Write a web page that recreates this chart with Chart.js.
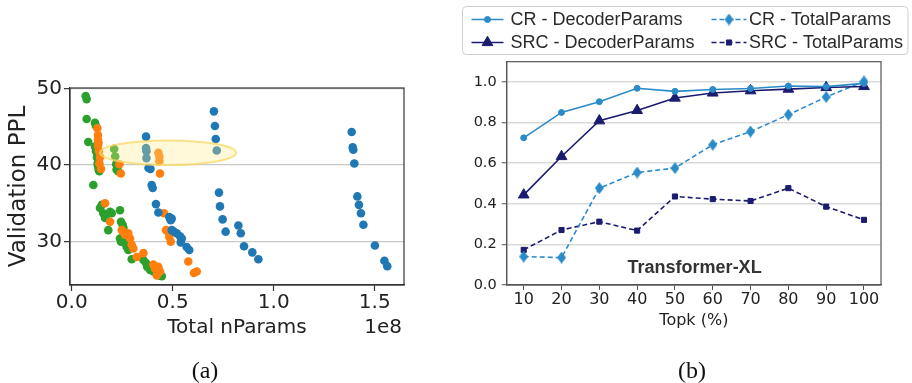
<!DOCTYPE html>
<html><head><meta charset="utf-8">
<script src="https://cdn.jsdelivr.net/npm/chart.js@4.4.1/dist/chart.umd.min.js"></script>
<style>
html,body{margin:0;padding:0;background:#fff;}
#wrap{position:relative;width:912px;height:383px;overflow:hidden;background:#fff;}
canvas{position:absolute;left:0;top:0;}
.cap{position:absolute;font-family:"Liberation Serif",serif;font-size:24px;color:#111;transform:translate(-50%,-50%);white-space:nowrap;}
</style></head><body>
<div id="wrap">
<canvas id="ca" width="912" height="383" style="width:912px;height:383px"></canvas>
<canvas id="cb" width="912" height="383" style="width:912px;height:383px"></canvas>
<div class="cap" style="left:205px;top:370px">(a)</div>
<div class="cap" style="left:692px;top:370px">(b)</div>
</div>
<script>
// ---------- Panel (a) data: [Total nParams (1e8), Validation PPL] ----------
const seriesBlue = [
 [0.368,43.7],[0.368,42.2],[0.370,41.8],[0.370,40.9],[0.380,39.6],[0.390,39.5],[0.396,37.4],[0.401,37.0],
 [0.417,34.9],[0.429,33.8],[0.483,33.2],[0.495,33.0],[0.490,32.8],[0.495,31.5],[0.507,31.3],[0.520,31.1],
 [0.536,30.7],[0.545,30.4],[0.540,29.9],[0.569,29.3],[0.582,28.9],
 [0.704,47.0],[0.709,45.1],[0.713,43.4],[0.718,41.9],[0.729,36.4],[0.734,34.6],[0.747,32.9],[0.762,31.3],
 [0.825,32.1],[0.837,31.1],[0.853,29.4],[0.894,28.6],[0.924,27.7],
 [1.386,44.3],[1.391,42.3],[1.394,42.0],[1.399,40.2],[1.414,35.9],[1.422,34.8],[1.432,33.7],[1.444,32.2],
 [1.501,29.5],[1.548,27.5],[1.562,26.8]
];
const seriesOrange = [
 [0.127,44.8],[0.130,43.9],[0.130,43.3],[0.133,42.9],[0.130,42.5],[0.135,41.8],[0.140,41.0],[0.137,40.2],[0.145,39.5],
 [0.236,40.1],[0.243,38.9],
 [0.429,41.6],[0.434,41.1],[0.434,40.5],[0.437,38.9],
 [0.165,35.0],[0.190,32.6],[0.248,31.5],[0.264,30.9],[0.280,31.1],[0.289,30.4],[0.297,29.6],[0.305,29.1],
 [0.322,28.0],[0.355,28.5],[0.404,27.0],[0.412,26.5],[0.429,26.7],[0.437,26.1],[0.421,25.6],
 [0.457,33.7],[0.467,31.5],[0.478,31.3],[0.483,30.6],[0.490,30.0],
 [0.577,27.4],[0.605,25.9],[0.619,26.1]
];
const seriesGreen = [
 [0.069,49.0],[0.074,48.6],[0.074,46.0],[0.082,43.0],[0.115,45.5],[0.120,45.1],
 [0.115,42.4],[0.120,41.8],[0.125,41.0],[0.128,40.2],[0.130,39.9],[0.133,39.4],[0.137,39.2],[0.107,37.4],
 [0.210,42.1],[0.215,41.1],[0.220,40.1],[0.222,39.4],[0.230,39.2],
 [0.149,34.8],[0.140,34.4],[0.156,33.7],[0.165,33.1],[0.173,33.5],[0.190,33.9],[0.198,33.7],[0.181,31.5],
 [0.239,34.1],[0.244,32.6],[0.252,32.2],[0.256,31.8],[0.239,30.4],[0.244,30.0],[0.264,29.8],[0.272,29.3],
 [0.280,28.9],[0.297,27.7],[0.355,27.6],[0.368,27.2],[0.374,26.7],[0.388,26.3],[0.404,26.1],[0.421,25.9],
 [0.434,25.6],[0.446,25.5]
];
const xTicksA = [0.0, 0.5, 1.0, 1.5];
const yTicksA = [30, 40, 50];
const highlight = {x: 0.477, y: 41.6, rx: 0.337, ry: 1.6};

// ---------- Panel (b) data ----------
const topk = [10,20,30,40,50,60,70,80,90,100];
const crDecoder  = [0.725,0.850,0.903,0.969,0.954,0.963,0.968,0.980,0.977,0.993];
const srcDecoder = [0.444,0.633,0.809,0.860,0.921,0.946,0.957,0.965,0.973,0.978];
const crTotal    = [0.140,0.135,0.477,0.554,0.576,0.691,0.756,0.839,0.926,1.003];
const srcTotal   = [0.173,0.271,0.312,0.268,0.436,0.423,0.414,0.477,0.386,0.321];
const xTicksB = [10,20,30,40,50,60,70,80,90,100];
const yTicksB = [0.0,0.2,0.4,0.6,0.8,1.0];
const labelsB = ['CR - DecoderParams','SRC - DecoderParams','CR - TotalParams','SRC - TotalParams'];

// ---------- helpers ----------
const pts = arr => arr.map(([x,y]) => ({x, y}));
const zip = (xs, ys) => xs.map((x,i) => ({x, y: ys[i]}));
const setTicks = list => s => { s.ticks = list.map(v => ({value: v})); };

const framePlugin = color => ({
  id: 'frame',
  afterDraw(chart) {
    const {ctx, chartArea: a} = chart;
    ctx.save(); ctx.strokeStyle = color; ctx.lineWidth = 1.2;
    ctx.strokeRect(a.left, a.top, a.right - a.left, a.bottom - a.top);
    ctx.restore();
  }
});

const ellipsePlugin = {
  id: 'ellipse',
  afterDatasetsDraw(chart) {
    const {ctx, scales: {x, y}} = chart;
    const cx = x.getPixelForValue(highlight.x), cy = y.getPixelForValue(highlight.y);
    const rx = Math.abs(x.getPixelForValue(highlight.x + highlight.rx) - cx);
    const ry = Math.abs(y.getPixelForValue(highlight.y + highlight.ry) - cy);
    ctx.save();
    ctx.beginPath(); ctx.ellipse(cx, cy, rx, ry, 0, 0, Math.PI * 2);
    ctx.fillStyle = 'rgba(255,236,140,0.32)'; ctx.fill();
    ctx.strokeStyle = 'rgba(250,215,100,0.75)'; ctx.lineWidth = 2; ctx.stroke();
    ctx.restore();
  }
};

const offsetPlugin = {
  id: 'offsetText',
  afterDraw(chart) {
    const {ctx, chartArea: a} = chart;
    ctx.save(); ctx.font = '20px "DejaVu Sans"'; ctx.fillStyle = '#222';
    ctx.textAlign = 'right'; ctx.textBaseline = 'middle';
    ctx.fillText('1e8', a.right - 2, 328);
    ctx.restore();
  }
};

// ---------- Chart (a) ----------
const dsA = (data, color) => ({data: pts(data), backgroundColor: color, borderColor: color,
  pointRadius: 4.3, pointHoverRadius: 4.3, borderWidth: 0, pointBorderWidth: 0});

new Chart(document.getElementById('ca'), {
  type: 'scatter',
  data: {datasets: [dsA(seriesBlue, '#1f77b4'), dsA(seriesOrange, '#ff7f0e'), dsA(seriesGreen, '#2ca02c')]},
  options: {
    responsive: false, animation: false, events: [],
    layout: {padding: {left: 0, top: 88, right: 508, bottom: 0}},
    plugins: {legend: {display: false}, tooltip: {enabled: false}},
    scales: {
      x: {type: 'linear', min: -0.0085, max: 1.645,
        afterBuildTicks: setTicks(xTicksA), afterFit: s => { s.height = 98; },
        grid: {drawOnChartArea: false, drawTicks: true, tickLength: 6, tickColor: '#333', tickWidth: 1.2},
        border: {color: '#333', width: 1.2},
        ticks: {font: {family: 'DejaVu Sans', size: 20}, color: '#222', padding: 0, maxRotation: 0, autoSkip: false,
          callback: v => Number(v).toFixed(1)},
        title: {display: true, text: 'Total nParams', font: {family: 'DejaVu Sans', size: 20}, color: '#222',
          padding: {top: 0, bottom: 43}}
      },
      y: {type: 'linear', min: 24.34, max: 50.05,
        afterBuildTicks: setTicks(yTicksA), afterFit: s => { s.width = 70; },
        grid: {color: '#c8c8c8', lineWidth: 1.3, drawTicks: true, tickLength: 6, tickColor: '#333', tickWidth: 1.2},
        border: {color: '#333', width: 1.2},
        ticks: {font: {family: 'DejaVu Sans', size: 20}, color: '#222', padding: 2, autoSkip: false,
          callback: v => String(v)},
        title: {display: true, text: 'Validation PPL', font: {family: 'DejaVu Sans', size: 23}, color: '#222',
          padding: {top: 5, bottom: 0}}
      }
    }
  },
  plugins: [ellipsePlugin, framePlugin('#333'), offsetPlugin]
});

// ---------- Chart (b) ----------
const CR = '#2a8bc8', SRC = '#1b1b70';
function thinDiamond(color, w, h) {
  const c = document.createElement('canvas'); c.width = w; c.height = h;
  const g = c.getContext('2d'); g.fillStyle = color;
  g.beginPath(); g.moveTo(w/2, 0); g.lineTo(w, h/2); g.lineTo(w/2, h); g.lineTo(0, h/2); g.closePath(); g.fill();
  return c;
}
const diamondImg = thinDiamond(CR, 9, 12);

const lineDs = (label, ys, color, style, radius, dash) => ({
  label, data: zip(topk, ys), borderColor: color, backgroundColor: color,
  pointBackgroundColor: color, pointBorderColor: color, pointBorderWidth: 1,
  borderWidth: 1.6, borderDash: dash, pointStyle: style, pointRadius: radius, pointHoverRadius: radius,
  tension: 0, fill: false
});

const legendPlugin = {
  id: 'gridLegend',
  afterDraw(chart) {
    const ctx = chart.ctx;
    const box = {l: 462.5, t: 6.5, r: 908, b: 54.5};
    ctx.save();
    ctx.beginPath(); ctx.roundRect(box.l, box.t, box.r - box.l, box.b - box.t, 4);
    ctx.fillStyle = 'rgba(255,255,255,0.9)'; ctx.fill();
    ctx.strokeStyle = '#cfcfcf'; ctx.lineWidth = 1; ctx.stroke();
    const cols = [{x0: 471.5, x1: 503.5, tx: 510.5}, {x0: 711.5, x1: 746.5, tx: 749}];
    const rows = [19.5, 42.5];
    chart.data.datasets.forEach((ds, i) => {
      const col = cols[Math.floor(i / 2)], y = rows[i % 2];
      ctx.save();
      ctx.strokeStyle = ds.borderColor; ctx.lineWidth = ds.borderWidth;
      ctx.setLineDash(ds.borderDash || []);
      ctx.beginPath(); ctx.moveTo(col.x0, y); ctx.lineTo(col.x1, y); ctx.stroke();
      ctx.setLineDash([]);
      ctx.fillStyle = ds.pointBackgroundColor; ctx.strokeStyle = ds.pointBorderColor; ctx.lineWidth = 1;
      Chart.helpers.drawPoint(ctx, {pointStyle: ds.pointStyle, radius: ds.pointRadius, rotation: 0, borderWidth: 1},
        (col.x0 + col.x1) / 2, y);
      ctx.restore();
      ctx.font = '18px "Liberation Sans"'; ctx.fillStyle = '#2a2a2a';
      ctx.textAlign = 'left'; ctx.textBaseline = 'middle';
      ctx.fillText(ds.label, col.tx, y + 1);
    });
    ctx.restore();
  }
};

const annotPlugin = {
  id: 'modelName',
  afterDatasetsDraw(chart) {
    const {ctx, scales: {x, y}} = chart;
    ctx.save(); ctx.font = 'bold 18px "Liberation Sans"'; ctx.fillStyle = '#333';
    ctx.textAlign = 'center'; ctx.textBaseline = 'middle';
    ctx.fillText('Transformer-XL', x.getPixelForValue(55.2), y.getPixelForValue(0.082));
    ctx.restore();
  }
};

new Chart(document.getElementById('cb'), {
  type: 'line',
  data: {datasets: [
    lineDs(labelsB[0], crDecoder, CR, 'circle', 3, []),
    lineDs(labelsB[1], srcDecoder, SRC, 'triangle', 6.2, []),
    lineDs(labelsB[2], crTotal, CR, diamondImg, 6, [5, 3]),
    lineDs(labelsB[3], srcTotal, SRC, 'rect', 3.6, [5, 3])
  ]},
  options: {
    responsive: false, animation: false, events: [],
    layout: {padding: {left: 450, top: 61.7, right: 31, bottom: 0}},
    plugins: {legend: {display: false}, tooltip: {enabled: false}},
    scales: {
      x: {type: 'linear', min: 5.5, max: 104.5,
        afterBuildTicks: setTicks(xTicksB), afterFit: s => { s.height = 98; },
        grid: {drawOnChartArea: false, drawTicks: true, tickLength: 5, tickColor: '#555', tickWidth: 1},
        border: {color: '#555', width: 1.2},
        ticks: {font: {family: 'DejaVu Sans', size: 16}, color: '#222', padding: 0, maxRotation: 0, autoSkip: false,
          callback: v => String(v)},
        title: {display: true, text: 'Topk (%)', font: {family: 'DejaVu Sans', size: 16}, color: '#222',
          padding: {top: 0, bottom: 53}}
      },
      y: {type: 'linear', min: 0, max: 1.1,
        afterBuildTicks: setTicks(yTicksB), afterFit: s => { s.width = 56.7; },
        grid: {color: '#d9d9d9', lineWidth: 1.5, drawTicks: true, tickLength: 5, tickColor: '#555', tickWidth: 1},
        border: {color: '#555', width: 1.2},
        ticks: {font: {family: 'DejaVu Sans', size: 14.5}, color: '#222', padding: 5, autoSkip: false,
          callback: v => Number(v).toFixed(1)}
      }
    }
  },
  plugins: [annotPlugin, framePlugin('#555'), legendPlugin]
});
</script>
</body></html>
